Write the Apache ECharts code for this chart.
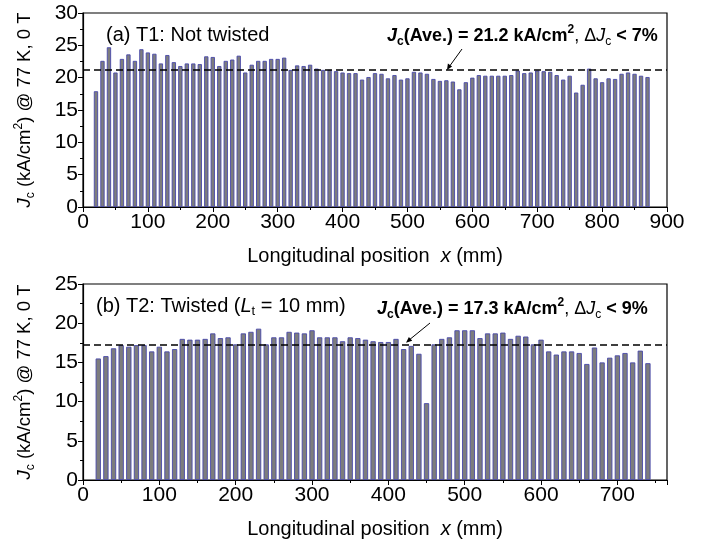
<!DOCTYPE html>
<html>
<head>
<meta charset="utf-8">
<script src="https://cdn.jsdelivr.net/npm/echarts@6/dist/echarts.min.js"></script>
<style>
  html, body { margin: 0; padding: 0; background: #fff; }
  #chart { width: 710px; height: 546px; }
</style>
</head>
<body>
<div id="chart"></div>
<script>
// (a) T1: not twisted -- position (mm) and Jc (kA/cm2)
var posT1 = [20, 30, 40, 50, 60, 70, 80, 90, 100, 110, 120, 130, 140, 150, 160, 170, 180, 190, 200,
  210, 220, 230, 240, 250, 260, 270, 280, 290, 300, 310, 320, 330, 340, 350, 360, 370, 380, 390, 400,
  410, 420, 430, 440, 450, 460, 470, 480, 490, 500, 510, 520, 530, 540, 550, 560, 570, 580, 590, 600,
  610, 620, 630, 640, 650, 660, 670, 680, 690, 700, 710, 720, 730, 740, 750, 760, 770, 780, 790, 800,
  810, 820, 830, 840, 850, 860, 870]
var jcT1 = [17.9, 22.6, 24.7, 20.8, 22.9, 23.6, 22.6, 24.4, 23.9, 23.7, 22.2, 23.5, 22.4, 21.8, 22.2, 22.2, 22.1, 23.3, 23.2,
  21.8, 22.6, 22.8, 23.4, 20.8, 22.0, 22.6, 22.6, 22.9, 22.9, 23.1, 21.2, 21.9, 21.8, 22.0, 21.4, 21.2, 21.2, 21.0, 20.8,
  20.7, 20.7, 19.7, 20.1, 20.7, 20.6, 19.9, 20.4, 19.7, 19.9, 20.9, 20.8, 20.6, 19.8, 19.5, 19.6, 19.4, 18.2, 19.3, 20.0,
  20.4, 20.3, 20.3, 20.3, 20.3, 20.4, 21.1, 20.7, 20.8, 21.1, 21.0, 20.9, 20.4, 19.7, 20.3, 17.7, 18.9, 21.4, 19.9, 19.3,
  19.9, 19.8, 20.6, 20.8, 20.6, 20.3, 20.1]
var aveT1 = 21.2

// (b) T2: twisted, Lt = 10 mm
var posT2 = [20, 30, 40, 50, 60, 70, 80, 90, 100, 110, 120, 130, 140, 150, 160, 170, 180, 190, 200,
  210, 220, 230, 240, 250, 260, 270, 280, 290, 300, 310, 320, 330, 340, 350, 360, 370, 380, 390, 400,
  410, 420, 430, 440, 450, 460, 470, 480, 490, 500, 510, 520, 530, 540, 550, 560, 570, 580, 590, 600,
  610, 620, 630, 640, 650, 660, 670, 680, 690, 700, 710, 720, 730, 740]
var jcT2 = [15.5, 15.8, 16.8, 17.2, 17.0, 17.2, 17.2, 16.4, 17.0, 16.4, 16.7, 18.0, 17.9, 17.9, 18.0, 18.7, 18.1, 18.2, 17.3,
  18.7, 18.9, 19.3, 17.3, 18.2, 18.2, 18.9, 18.8, 18.7, 19.1, 18.2, 18.2, 18.2, 17.7, 18.2, 18.1, 17.9, 17.7, 17.6, 17.6,
  18.0, 16.7, 17.1, 16.1, 9.8, 17.3, 18.0, 18.2, 19.1, 19.1, 19.1, 18.1, 18.7, 18.7, 18.8, 18.0, 18.4, 18.3, 17.3, 17.9,
  16.4, 16.0, 16.4, 16.4, 16.2, 14.8, 16.9, 15.0, 15.6, 15.9, 16.2, 15.0, 16.5, 14.9]
var aveT2 = 17.3

var FONT = 'Arial, "Liberation Sans", sans-serif'

function pairs(xs, ys) {
  var out = []
  for (var i = 0; i < xs.length; i++) out.push([xs[i], ys[i]])
  return out
}

// 下标/上标
var richBase = {
  i: { fontStyle: 'italic', fontFamily: FONT, fontSize: 18.5, color: '#000', lineHeight: 24 },
  sub: { fontSize: 12, fontFamily: FONT, color: '#000', verticalAlign: 'bottom', lineHeight: 12 },
  sup: { fontSize: 12, fontFamily: FONT, color: '#000', verticalAlign: 'top', lineHeight: 12 },
  n: { fontSize: 18.5, fontFamily: FONT, color: '#000', lineHeight: 24 }
}
var richX = {
  i: { fontStyle: 'italic', fontFamily: FONT, fontSize: 20, color: '#000' },
  n: { fontSize: 20, fontFamily: FONT, color: '#000' }
}
var richBold = {
  i: { fontStyle: 'italic', fontWeight: 'bold', fontFamily: FONT, fontSize: 18, color: '#000', lineHeight: 24 },
  b: { fontWeight: 'bold', fontFamily: FONT, fontSize: 18, color: '#000', lineHeight: 24 },
  bsub: { fontWeight: 'bold', fontFamily: FONT, fontSize: 12, color: '#000', verticalAlign: 'bottom', lineHeight: 12 },
  bsup: { fontWeight: 'bold', fontFamily: FONT, fontSize: 12, color: '#000', verticalAlign: 'top', lineHeight: 12 },
  n: { fontFamily: FONT, fontSize: 18, color: '#000', lineHeight: 24 },
  nsub: { fontFamily: FONT, fontSize: 12, color: '#000', verticalAlign: 'bottom', lineHeight: 12 },
  ni: { fontStyle: 'italic', fontFamily: FONT, fontSize: 18, color: '#000', lineHeight: 24 }
}

function xAxisOf(idx, max) {
  return {
    gridIndex: idx, type: 'value', min: 0, max: max, interval: 100,
    name: '{n|Longitudinal position  }{i|x}{n| (mm)}',
    nameLocation: 'middle', nameGap: 39,
    nameTextStyle: { rich: richX },
    axisLine: { lineStyle: { color: '#000', width: 1.2 } },
    axisTick: { length: 5, lineStyle: { color: '#000' } },
    minorTick: { show: true, splitNumber: 2, length: 3, lineStyle: { color: '#000' } },
    axisLabel: { color: '#000', fontSize: 21, fontFamily: FONT, margin: 5, showMaxLabel: max % 100 === 0 },
    splitLine: { show: false }
  }
}

function yAxisOf(idx, max) {
  return {
    gridIndex: idx, type: 'value', min: 0, max: max, interval: 5,
    name: '{i|J}{sub|c}{n| (kA/cm}{sup|2}{n|) @ 77 K, 0 T}',
    nameLocation: 'middle', nameGap: 46, nameRotate: 90,
    nameTextStyle: { rich: richBase },
    axisLine: { show: true, lineStyle: { color: '#000', width: 1.2 } },
    axisTick: { length: 5, lineStyle: { color: '#000' } },
    minorTick: { show: true, splitNumber: 2, length: 3, lineStyle: { color: '#000' } },
    axisLabel: { color: '#000', fontSize: 21, fontFamily: FONT, margin: 5 },
    splitLine: { show: false }
  }
}

function barSeries(idx, xs, ys, ave, w) {
  return {
    type: 'bar', xAxisIndex: idx, yAxisIndex: idx,
    data: pairs(xs, ys), barWidth: w,
    itemStyle: { color: '#7d7d7d', borderColor: '#4848aa', borderWidth: 0.9 },
    silent: true,
    markLine: {
      silent: true, symbol: 'none', label: { show: false },
      lineStyle: { color: '#000', type: [7, 4], width: 1.5 },
      data: [{ yAxis: ave }]
    }
  }
}

var chart = echarts.init(document.getElementById('chart'))

var option = {
  animation: false,
  grid: [
    { left: 83, top: 13, width: 584, height: 194, show: true, borderColor: '#000', borderWidth: 1.2 },
    { left: 83, top: 284, width: 584, height: 196, show: true, borderColor: '#000', borderWidth: 1.2 }
  ],
  xAxis: [xAxisOf(0, 900), xAxisOf(1, 765)],
  yAxis: [yAxisOf(0, 30), yAxisOf(1, 25)],
  series: [
    barSeries(0, posT1, jcT1, aveT1, 4.3),
    barSeries(1, posT2, jcT2, aveT2, 5.3)
  ],
  graphic: [
    { type: 'text', left: 106, top: 25,
      style: { text: '(a) T1: Not twisted', fontSize: 20, fontFamily: FONT, fill: '#000' } },
    { type: 'text', left: 387, top: 24,
      style: { text: '{i|J}{bsub|c}{b|(Ave.) = ' + aveT1 + ' kA/cm}{bsup|2}{n|, Δ}{ni|J}{nsub|c}{b| < 7%}', rich: richBold } },
    { type: 'polyline', shape: { points: [[462, 49], [449, 67]] }, style: { stroke: '#000', lineWidth: 1 } },
    { type: 'polygon', shape: { points: [[447, 70], [452.1, 66.4], [447.9, 63.6]] }, style: { fill: '#000' } },

    { type: 'text', left: 96, top: 296,
      style: { text: '{n|(b) T2: Twisted (}{i|L}{sub|t}{n| = 10 mm)}', rich: {
        n: { fontSize: 20, fontFamily: FONT, color: '#000', lineHeight: 24 },
        i: { fontSize: 20, fontFamily: FONT, fontStyle: 'italic', color: '#000', lineHeight: 24 },
        sub: { fontSize: 13, fontFamily: FONT, color: '#000', verticalAlign: 'bottom', lineHeight: 12 }
      } } },
    { type: 'text', left: 377, top: 297,
      style: { text: '{i|J}{bsub|c}{b|(Ave.) = ' + aveT2 + ' kA/cm}{bsup|2}{n|, Δ}{ni|J}{nsub|c}{b| < 9%}', rich: richBold } },
    { type: 'polyline', shape: { points: [[430, 323], [408.5, 340.5]] }, style: { stroke: '#000', lineWidth: 1 } },
    { type: 'polygon', shape: { points: [[406, 342.7], [412.2, 340.7], [408.9, 336.9]] }, style: { fill: '#000' } }
  ]
}

chart.setOption(option)
</script>
</body>
</html>
